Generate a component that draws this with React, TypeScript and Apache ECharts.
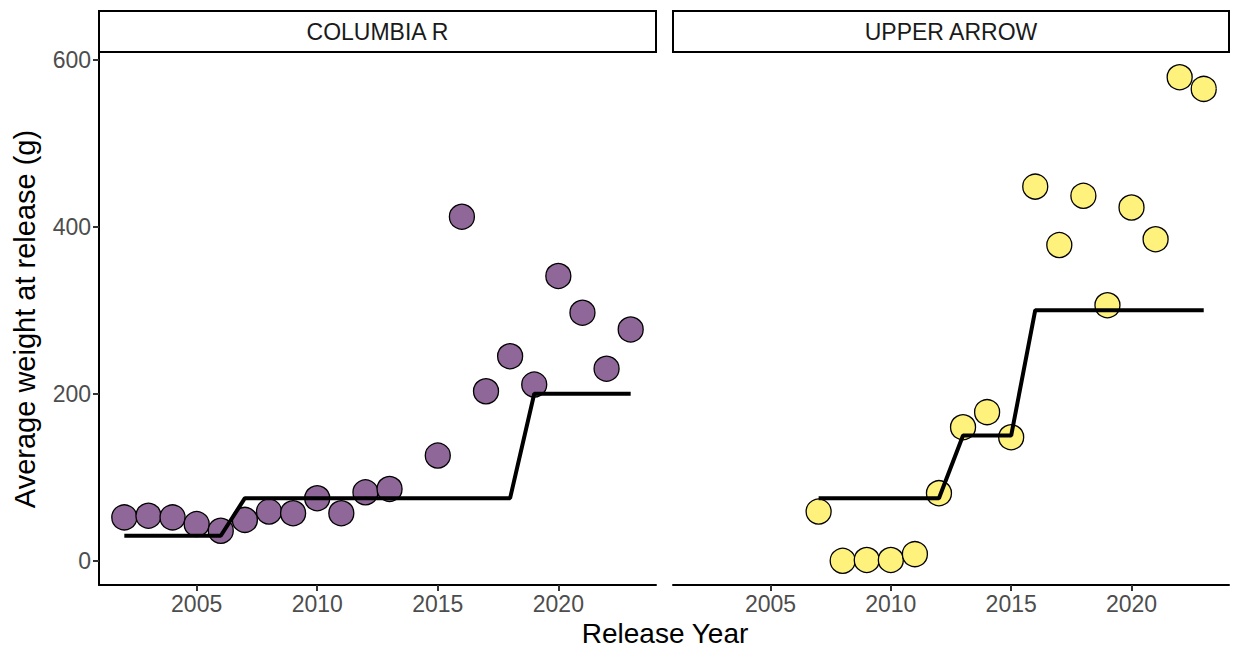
import React, { useEffect, useRef } from "react";
import * as echarts from "echarts";

const panelTitles = ["COLUMBIA R", "UPPER ARROW"];
const xTicks = [2005, 2010, 2015, 2020];
const yTicks = [0, 200, 400, 600];

const columbiaYears = [2002, 2003, 2004, 2005, 2006, 2007, 2008, 2009, 2010, 2011, 2012, 2013, 2015, 2016, 2017, 2018, 2019, 2020, 2021, 2022, 2023];
const columbiaWeights = [52, 54, 52, 44, 36, 49, 59, 57, 75, 57, 82, 86, 126, 412, 203, 245, 211, 341, 297, 230, 277];
const columbiaFitYears = [2002, 2003, 2004, 2005, 2006, 2007, 2008, 2009, 2010, 2011, 2012, 2013, 2014, 2015, 2016, 2017, 2018, 2019, 2020, 2021, 2022, 2023];
const columbiaFit = [30, 30, 30, 30, 30, 75, 75, 75, 75, 75, 75, 75, 75, 75, 75, 75, 75, 200, 200, 200, 200, 200];

const upperYears = [2007, 2008, 2009, 2010, 2011, 2012, 2013, 2014, 2015, 2016, 2017, 2018, 2019, 2020, 2021, 2022, 2023];
const upperWeights = [59, 0, 1, 1, 8, 81, 160, 178, 148, 448, 378, 437, 306, 423, 385, 579, 565];
const upperFitYears = [2007, 2008, 2009, 2010, 2011, 2012, 2013, 2014, 2015, 2016, 2017, 2018, 2019, 2020, 2021, 2022, 2023];
const upperFit = [75, 75, 75, 75, 75, 75, 150, 150, 150, 300, 300, 300, 300, 300, 300, 300, 300];

const FONT = "'Liberation Sans', Arial, sans-serif";

const zip = (a: number[], b: number[]) => a.map((v, i) => [v, b[i]]);

export default function App() {
  const ref = useRef<HTMLDivElement>(null);
  useEffect(() => {
    if (!ref.current) return;
    const chart = echarts.init(ref.current, null, { renderer: "svg" });
    const grids = [
      { left: 99, top: 53, width: 557, height: 532 },
      { left: 673, top: 53, width: 556, height: 532 },
    ];
    const xAxisBase = (gi: number) => ({
      type: "value",
      gridIndex: gi,
      min: 2000.95,
      max: 2024.05,
      splitLine: { show: false },
      axisLine: { show: true, onZero: false, lineStyle: { color: "#000", width: 2 } },
      axisTick: { show: true, customValues: xTicks, length: 6, lineStyle: { color: "#333", width: 2 } },
      axisLabel: {
        customValues: xTicks,
        formatter: (v: number) => String(v),
        color: "#4D4D4D",
        fontSize: 23,
        fontFamily: FONT,
        margin: 7,
      },
    });
    const yAxisBase = (gi: number) => ({
      type: "value",
      gridIndex: gi,
      min: -28.95,
      max: 607.95,
      splitLine: { show: false },
      axisLine: { show: gi === 0, onZero: false, lineStyle: { color: "#000", width: 2 } },
      axisTick: { show: gi === 0, customValues: yTicks, length: 6, lineStyle: { color: "#333", width: 2 } },
      axisLabel: {
        show: gi === 0,
        customValues: yTicks,
        formatter: (v: number) => String(v),
        color: "#4D4D4D",
        fontSize: 23,
        fontFamily: FONT,
        margin: 8,
      },
    });
    const strips = grids.map((g, i) => ({
      type: "group",
      children: [
        {
          type: "rect",
          shape: { x: g.left, y: 11, width: g.width, height: 41 },
          style: { fill: "#fff", stroke: "#000", lineWidth: 2 },
        },
        {
          type: "text",
          x: g.left + g.width / 2,
          y: 32,
          style: { text: panelTitles[i], fill: "#1A1A1A", font: `23px ${FONT}`, textAlign: "center", textVerticalAlign: "middle" },
        },
      ],
    }));
    const scatterStyle = (color: string) => ({ color, borderColor: "#000", borderWidth: 1.3, opacity: 1 });
    chart.setOption({
      animation: false,
      backgroundColor: "#fff",
      grid: grids,
      xAxis: [xAxisBase(0), xAxisBase(1)],
      yAxis: [yAxisBase(0), yAxisBase(1)],
      graphic: [
        ...strips,
        {
          type: "text",
          x: 665,
          y: 633,
          style: { text: "Release Year", fill: "#000", font: `28px ${FONT}`, textAlign: "center", textVerticalAlign: "middle" },
        },
        {
          type: "text",
          x: 25,
          y: 319,
          rotation: Math.PI / 2,
          style: { text: "Average weight at release (g)", fill: "#000", font: `29px ${FONT}`, textAlign: "center", textVerticalAlign: "middle" },
        },
      ],
      series: [
        {
          type: "scatter",
          xAxisIndex: 0,
          yAxisIndex: 0,
          data: zip(columbiaYears, columbiaWeights),
          symbolSize: 25,
          itemStyle: scatterStyle("#8F6798"),
          z: 2,
        },
        {
          type: "line",
          xAxisIndex: 0,
          yAxisIndex: 0,
          data: zip(columbiaFitYears, columbiaFit),
          symbol: "none",
          lineStyle: { color: "#000", width: 4 },
          z: 3,
        },
        {
          type: "scatter",
          xAxisIndex: 1,
          yAxisIndex: 1,
          data: zip(upperYears, upperWeights),
          symbolSize: 25,
          itemStyle: scatterStyle("#FEF17C"),
          z: 2,
        },
        {
          type: "line",
          xAxisIndex: 1,
          yAxisIndex: 1,
          data: zip(upperFitYears, upperFit),
          symbol: "none",
          lineStyle: { color: "#000", width: 4 },
          z: 3,
        },
      ],
    });
    return () => chart.dispose();
  }, []);
  return <div ref={ref} style={{ position: "fixed", left: 0, top: 0, width: 1235, height: 650 }} />;
}
